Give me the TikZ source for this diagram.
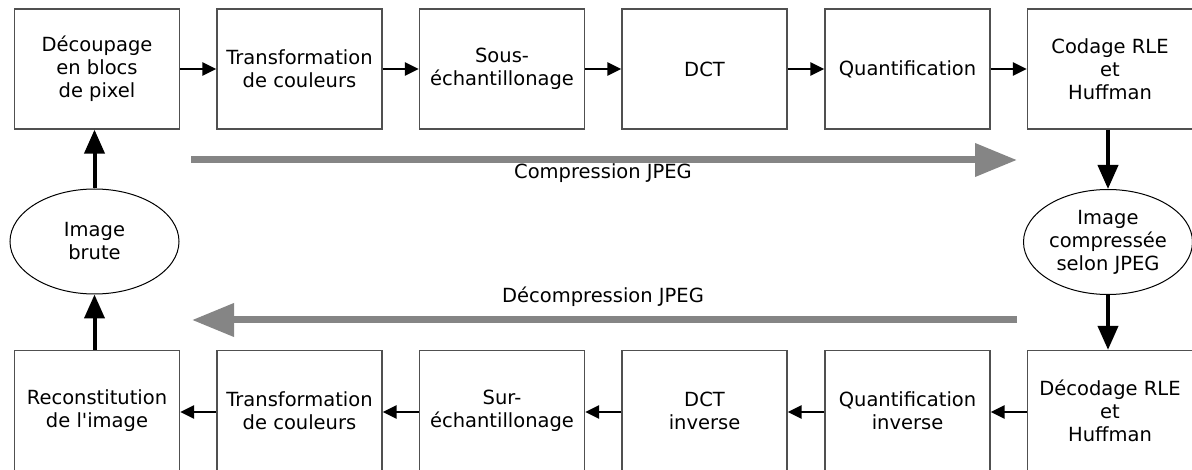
\documentclass[tikz,border=0pt]{standalone}
\usepackage{fontspec}
\setmainfont{DejaVu Sans}[Ligatures=TeXOff]
\usetikzlibrary{arrows.meta,shapes.geometric}
\definecolor{boxline}{HTML}{505050}
\definecolor{flowgray}{HTML}{858585}
\tikzset{
  stage/.style={draw=boxline, line width=1.3pt, rectangle, minimum width=165pt,
    minimum height=120pt, align=center, inner sep=0pt,
    font=\fontsize{19.5pt}{23pt}\selectfont},
  datum/.style={draw=black, line width=1pt, ellipse, minimum width=169pt,
    minimum height=105pt, align=center, inner sep=0pt,
    font=\fontsize{19.5pt}{23pt}\selectfont},
  link/.style={line width=2.6pt, -{Triangle[length=14pt,width=13pt]}},
  biglink/.style={line width=4pt, -{Triangle[length=24pt,width=20pt]}},
  flow/.style={draw=flowgray, line width=7pt, -{Triangle[length=42pt,width=32pt]}, color=flowgray},
  caption/.style={font=\fontsize{19.5pt}{23pt}\selectfont, inner sep=0pt}
}
\begin{document}
\begin{tikzpicture}[x=1pt,y=-1pt]
\useasboundingbox (0,0) rectangle (1192,470);
% compression chain
\node[stage] (t1) at (97,69)   {Découpage\\en blocs\\de pixel};
\node[stage] (t2) at (299.5,69) {Transformation\\de couleurs};
\node[stage] (t3) at (502,69)  {Sous-\\échantillonage};
\node[stage] (t4) at (704.5,69) {DCT};
\node[stage] (t5) at (907.5,69) {Quantification};
\node[stage] (t6) at (1110,69) {Codage RLE\\et\\Huffman};
% decompression chain
\node[stage] (b1) at (97,410.5)   {Reconstitution\\de l'image};
\node[stage] (b2) at (299.5,410.5) {Transformation\\de couleurs};
\node[stage] (b3) at (502,410.5)  {Sur-\\échantillonage};
\node[stage] (b4) at (704.5,410.5) {DCT\\inverse};
\node[stage] (b5) at (907.5,410.5) {Quantification\\inverse};
\node[stage] (b6) at (1110,410.5) {Décodage RLE\\et\\Huffman};
% images
\node[datum] (raw) at (94.5,241.5) {Image\\brute};
\node[datum] (jpg) at (1108,242) {Image\\compressée\\selon JPEG};
% step links
\foreach \a/\b in {t1/t2,t2/t3,t3/t4,t4/t5,t5/t6}
  \draw[link] (\a.east) -- (\b.west);
\foreach \a/\b in {b6/b5,b5/b4,b4/b3,b3/b2,b2/b1}
  \draw[link] ([yshift=-1.5pt]\a.west) -- ([yshift=-1.5pt]\b.east);
\draw[biglink] (raw.south |- b1.north) -- (raw.south);
\draw[biglink] (raw.north) -- (raw.north |- t1.south);
\draw[biglink] (jpg.north |- t6.south) -- (jpg.north);
\draw[biglink] (jpg.south) -- (jpg.south |- b6.north);
% overall direction
\coordinate (cs) at (191,160);
\coordinate (ce) at (1017,160);
\coordinate (ds) at (1017,320);
\coordinate (de) at (192,320);
\draw[flow] (cs) -- (ce);
\draw[flow] (ds) -- (de);
\node[caption] (ctext) at (603,173) {Compression JPEG};
\node[caption] (dtext) at (603,297) {Décompression JPEG};
\end{tikzpicture}
\end{document}
